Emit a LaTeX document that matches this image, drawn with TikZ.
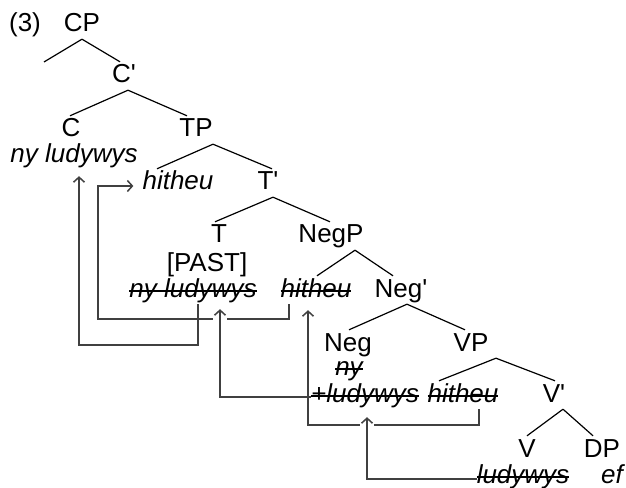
\documentclass[tikz,border=0pt]{standalone}
\usepackage{fontspec}
\setmainfont{Liberation Sans}
\usetikzlibrary{arrows.meta}
% struck-through text: a thin rule laid over the word
\newcommand\strk[1]{\setbox0=\hbox{#1}\rlap{\rule[0.21em]{\wd0}{0.075em}}\box0}
\newcommand\xbar{\textquotesingle}
\begin{document}
\begin{tikzpicture}[x=1bp,y=-1bp,
  lab/.style={font=\fontsize{26bp}{30bp}\selectfont, inner xsep=0pt, inner ysep=2bp,
              text height=19bp, text depth=5bp, anchor=base},
  wd/.style={lab, font=\fontsize{26bp}{30bp}\selectfont\itshape},
  br/.style={line width=1.2bp, black},
  mv/.style={line width=1.5bp, black!75, -{Straight Barb[length=5bp,width=11bp]}},
  gap/.style={preaction={draw=white, line width=14bp, -}}]
\useasboundingbox (0,0) rectangle (626,488);

% labels and words
\node[lab] (num) at (25,32) {(3)};
\node[lab] (CP) at (82,32) {CP};
\coordinate (spec) at (44,62);
\node[lab] (Cb) at (124,83) {C\xbar};
\node[lab] (C) at (71,137) {C};
\node[lab] (TP) at (196,137) {TP};
\node[wd] (nyC) at (74,163) {ny ludywys};
\node[wd] (hitheuT) at (178,190) {hitheu};
\node[lab] (Tb) at (268,190) {T\xbar};
\node[lab] (T) at (219,243) {T};
\node[lab] (NegP) at (331,243) {NegP};
\node[lab] (past) at (207,271) {[PAST]};
\node[wd] (nyT) at (193,297) {\strk{ny ludywys}};
\node[wd] (hitheuNeg) at (316,297) {\strk{hitheu}};
\node[lab] (Negb) at (401,297) {Neg\xbar};
\node[lab] (Neg) at (348,351) {Neg};
\node[lab] (VP) at (471,351) {VP};
\node[wd] (nyNeg) at (349,375) {\strk{ny}};
\node[wd] (plusV) at (365,402) {\strk{+ludywys}};
\node[wd] (hitheuV) at (463,402) {\strk{hitheu}};
\node[lab] (Vb) at (554,402) {V\xbar};
\node[lab] (V) at (527,457) {V};
\node[lab] (DP) at (602,457) {DP};
\node[wd] (ludV) at (523,483) {\strk{ludywys}};
\node[wd] (ef) at (612,483) {ef};

% tree branches
\draw[br] (CP.south) -- (spec);
\draw[br] (CP.south) -- ([xshift=-4bp]Cb.north);
\draw[br] ([xshift=4bp]Cb.south) -- ([xshift=-1bp]C.north);
\draw[br] ([xshift=4bp]Cb.south) -- ([xshift=-9bp]TP.north);
\draw[br] ([xshift=17bp]TP.south) -- ([xshift=-21bp]hitheuT.north);
\draw[br] ([xshift=17bp]TP.south) -- ([xshift=4bp]Tb.north);
\draw[br] ([xshift=5bp]Tb.south) -- ([xshift=-4bp]T.north);
\draw[br] ([xshift=5bp]Tb.south) -- ([xshift=-1bp]NegP.north);
\draw[br] ([xshift=24bp]NegP.south) -- ([xshift=1bp]hitheuNeg.north);
\draw[br] ([xshift=24bp]NegP.south) -- ([xshift=-8bp]Negb.north);
\draw[br] ([xshift=6bp]Negb.south) -- ([xshift=1bp]Neg.north);
\draw[br] ([xshift=6bp]Negb.south) -- ([xshift=-6bp]VP.north);
\draw[br] ([xshift=25bp]VP.south) -- ([xshift=-24bp]hitheuV.north);
\draw[br] ([xshift=25bp]VP.south) -- ([xshift=1bp]Vb.north);
\draw[br] ([xshift=9bp]Vb.south) -- (V.north);
\draw[br] ([xshift=9bp]Vb.south) -- ([xshift=-9bp]DP.north);

% movement arrows
\draw[mv, shorten >=6bp] ([xshift=5bp]nyT.south) -- ++(0,41) -| ([xshift=5bp]nyC.south);
\draw[mv, shorten >=9bp] ([xshift=-27bp]hitheuNeg.south) -- ++(0,15) -- ++(-191,0)
      |- ([yshift=4bp]hitheuT.base west);
\draw[mv, gap, shorten >=5bp] ([yshift=5bp]plusV.base west) -| ([xshift=27bp]nyT.south);
\draw[mv, shorten >=6bp] ([xshift=16bp]hitheuV.south) -- ++(0,16) -| ([xshift=-8bp]hitheuNeg.south);
\draw[mv, gap, shorten >=8bp] ([yshift=4bp]ludV.base west) -| ([xshift=2bp]plusV.south);
\end{tikzpicture}
\end{document}
